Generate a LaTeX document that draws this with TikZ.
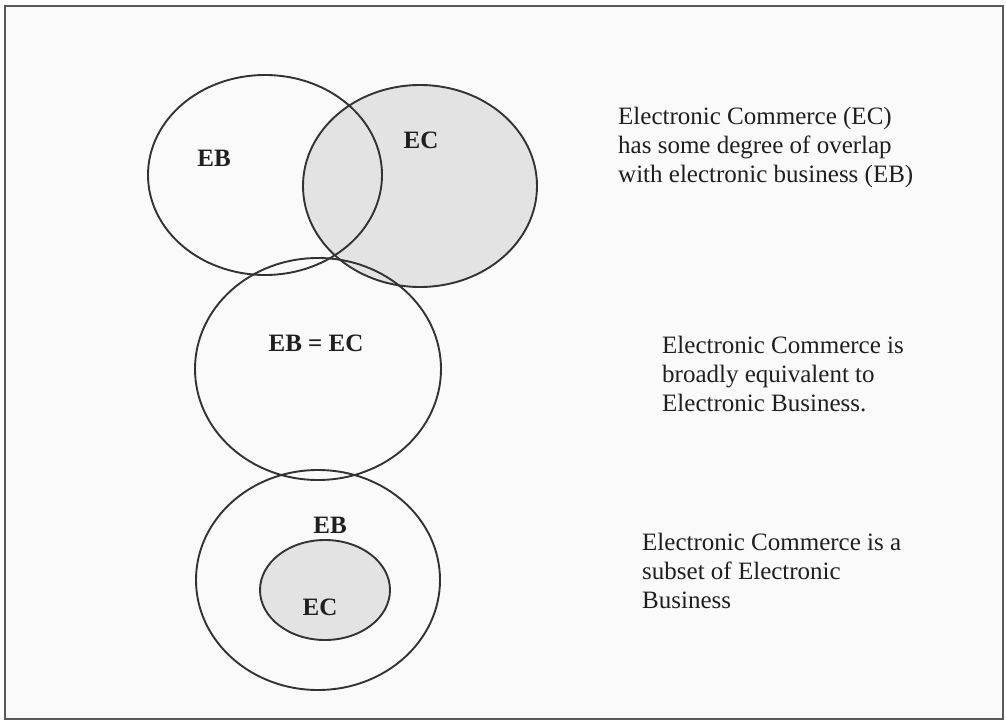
\documentclass[tikz,border=0pt]{standalone}
\usepackage{fontspec}
\setmainfont{Liberation Serif}
\begin{document}
\begin{tikzpicture}[x=1pt, y=-1pt,
    ring/.style={line width=1.9pt, draw=black!80},
    shade/.style={fill=black!11},
    tag/.style={font=\fontsize{25}{29}\selectfont\bfseries, inner sep=0pt, text=black!88},
    note/.style={font=\fontsize{25}{29}\selectfont, align=left, anchor=north west, inner sep=0pt, text=black!88}]
    % Frame
    \useasboundingbox (0,0) rectangle (1006,722);
    \draw[line width=2.8pt, draw=black!65, fill=black!2] (5,6) rectangle (1003,719);

    % Top: EB and EC overlap
    \fill[shade] (420,186) ellipse (117pt and 101pt);
    \draw[ring] (265,175) ellipse (117pt and 100pt);
    \draw[ring] (420,186) ellipse (117pt and 101pt);
    \node[tag] (ebA) at (214,158) {EB};
    \node[tag] (ecA) at (421,140) {EC};

    % Middle: EB = EC
    \draw[ring] (318,369) ellipse (123pt and 111pt);
    \node[tag] (ebecB) at (316,343) {EB = EC};

    % Bottom: EC inside EB
    \draw[ring] (318,580) ellipse (122pt and 110pt);
    \draw[ring, shade] (325,590) ellipse (65pt and 50pt);
    \node[tag] (ebC) at (330,525) {EB};
    \node[tag] (ecC) at (320,607) {EC};

    % Notes
    \node[note] (noteA) at (618,107) {Electronic Commerce (EC)\\has some degree of overlap\\with electronic business (EB)};
    \node[note] (noteB) at (662,336) {Electronic Commerce is\\broadly equivalent to\\Electronic Business.};
    \node[note] (noteC) at (642,533) {Electronic Commerce is a\\subset of Electronic\\Business};
\end{tikzpicture}
\end{document}
